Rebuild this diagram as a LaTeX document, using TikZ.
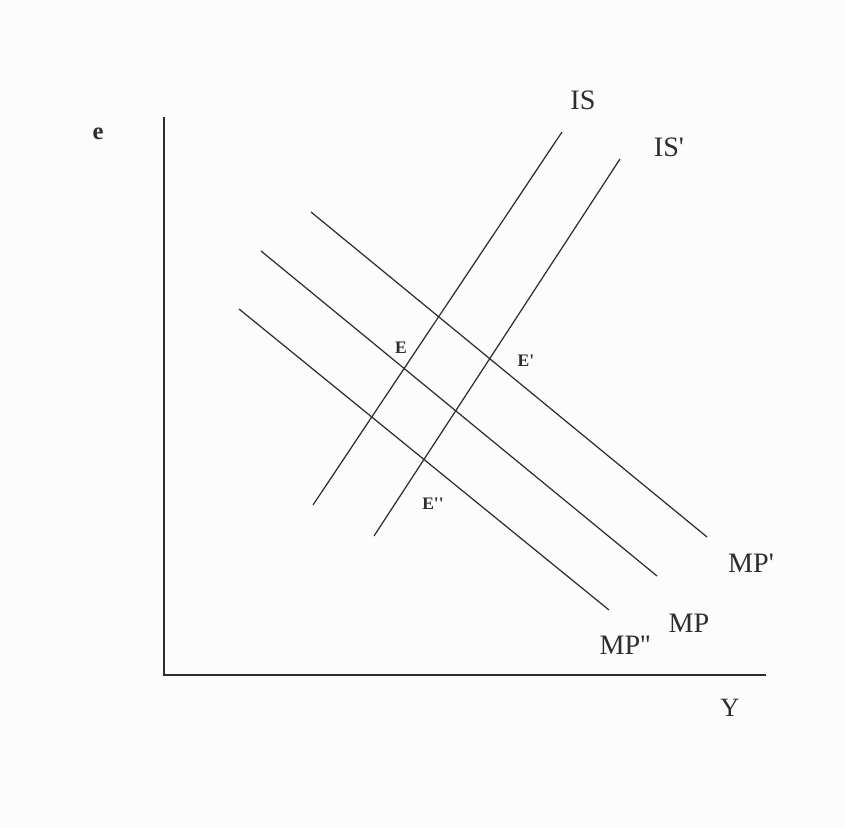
\documentclass[tikz,border=0pt]{standalone}
\usepackage{fontspec}
\setmainfont{Liberation Serif}
\usetikzlibrary{positioning}
\definecolor{paperGray}{RGB}{252,252,252}
\definecolor{inkGray}{RGB}{45,45,45}
\newcommand{\prm}{\textquotesingle}

\begin{document}
\begin{tikzpicture}[x=0.01cm,y=-0.01cm,
  curve/.style={draw=inkGray,line width=0.35pt},
  axis/.style={draw=inkGray,line width=0.75pt},
  curvelbl/.style={font=\fontsize{8}{9}\selectfont,text=inkGray,inner sep=0pt},
  ptlbl/.style={font=\bfseries\fontsize{5}{6}\selectfont,text=inkGray,inner sep=0pt}]
\fill[paperGray] (0,0) rectangle (845,828);
\useasboundingbox (0,0) rectangle (845,828);
% axes
\coordinate (top) at (164,117);
\coordinate (origin) at (164,675);
\coordinate (right) at (766,675);
\draw[axis] (top) -- (origin) -- (right);
\node[font=\bfseries\fontsize{7}{8}\selectfont,text=inkGray,inner sep=0pt] (elbl) at (98,134) {e};
\node[font=\fontsize{7.5}{8}\selectfont,text=inkGray,inner sep=0pt] (ylbl) at (730,708) {Y};
% IS curves
\coordinate (isA) at (313,505);
\coordinate (isB) at (562,132);
\coordinate (ispA) at (374,536);
\coordinate (ispB) at (620,159);
\draw[curve] (isA) -- (isB);
\draw[curve] (ispA) -- (ispB);
\node[curvelbl] (islbl) at (583,100) {IS};
\node[curvelbl] (isplbl) at (669,147) {IS\prm};
% MP curves
\coordinate (mppA) at (311,212);
\coordinate (mppB) at (707,537);
\coordinate (mpA) at (261,251);
\coordinate (mpB) at (657,576);
\coordinate (mpppA) at (239,309);
\coordinate (mpppB) at (609,610);
\draw[curve] (mppA) -- (mppB);
\draw[curve] (mpA) -- (mpB);
\draw[curve] (mpppA) -- (mpppB);
\node[curvelbl] (mpplbl) at (751,563) {MP\prm};
\node[curvelbl] (mplbl) at (689,623) {MP};
\node[curvelbl] (mppplbl) at (625,645) {MP\prm\prm};
% equilibria
\node[ptlbl] (E) at (401,348) {E};
\node[ptlbl] (Ep) at (526,361) {E\prm};
\node[ptlbl] (Epp) at (433,504) {E\prm\prm};
\end{tikzpicture}
\end{document}
